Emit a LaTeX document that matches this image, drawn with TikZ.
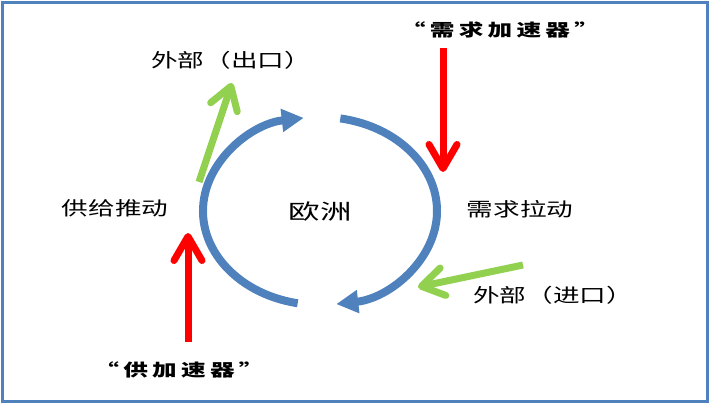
\documentclass[tikz,border=0pt]{standalone}
\usepackage{fontspec}
\usetikzlibrary{arrows.meta}
\newfontfamily\cjk[FakeStretch=1.4]{Noto Sans CJK SC}
\newfontfamily\cjkbig[FakeStretch=1.5]{Noto Sans CJK SC}
\newfontfamily\cjkacc[FakeStretch=1.45,LetterSpace=25]{Noto Sans CJK SC}
\definecolor{cycblue}{RGB}{79,129,189}
\definecolor{accgreen}{RGB}{146,208,80}
\definecolor{accred}{RGB}{255,0,0}
\begin{document}
\begin{tikzpicture}[x=1pt,y=1pt]
\tikzset{
  frame/.style={draw=cycblue, line width=3pt},
  cyc/.style={draw=cycblue, line width=8pt, -{Triangle[length=22pt,width=22pt]}},
  gext/.style={draw=accgreen, line width=7pt, -{Straight Barb[length=22pt,width=28pt,round]}},
  racc/.style={draw=accred, line width=7pt, -{Straight Barb[length=24pt,width=28pt,round]}},
  lbl/.style={font=\cjk\fontsize{19}{19}\selectfont, text=black, inner sep=0pt},
  biglbl/.style={font=\cjkbig\fontsize{21}{21}\selectfont, text=black, inner sep=0pt},
  acclbl/.style={font=\cjkacc\bfseries\fontsize{17}{17}\selectfont, text=black, inner sep=0pt}
}
\useasboundingbox (0,0) rectangle (711,405);
\draw[frame] (2.5,4) rectangle (707,402.5);
% labels
\node[lbl] (exp) at (231,345) {外部（出口）};
\node[lbl] (sup) at (115,197) {供给推动};
\node[biglbl] (eu) at (320,193) {欧洲};
\node[lbl] (dem) at (520,196) {需求拉动};
\node[lbl] (imp) at (553,110) {外部（进口）};
\node[acclbl] (dacc) at (500,375) {“需求加速器”};
\node[acclbl] (sacc) at (179,35) {“供加速器”};
% coordinates
\coordinate (c) at (320,194);
\coordinate (g1t) at (199,223);
\coordinate (g1h) at (232,322);
\coordinate (g2t) at (523,140);
\coordinate (g2h) at (418,118);
\coordinate (r1t) at (443,357);
\coordinate (r1h) at (443,233);
\coordinate (r2t) at (188,63);
\coordinate (r2h) at (188,172);
% green arrows
\draw[gext] (g1t) -- (g1h);
\draw[gext] (g2t) -- (g2h);
% cycle
\draw[cyc] ([shift={(259:117 and 94)}]c) arc[start angle=259,end angle=98,x radius=117,y radius=94];
\draw[cyc] ([shift={(80:117 and 94)}]c) arc[start angle=80,end angle=-82,x radius=117,y radius=94];
% red arrows
\draw[racc] (r1t) -- (r1h);
\draw[racc] (r2t) -- (r2h);
\end{tikzpicture}
\end{document}
